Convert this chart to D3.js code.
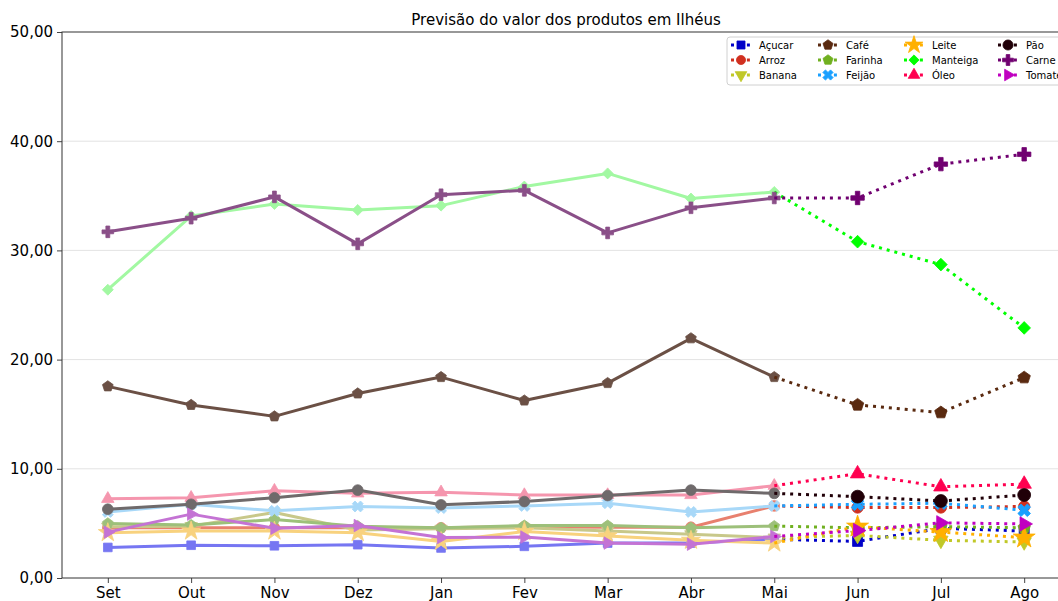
<!DOCTYPE html>
<html><head><meta charset="utf-8">
<script src="https://cdn.jsdelivr.net/npm/d3@7"></script>
<style>
html,body{margin:0;padding:0;background:#fff;}
svg{display:block;font-family:"DejaVu Sans",sans-serif;}
</style></head>
<body>
<svg id="chart" width="1058" height="601"></svg>
<script>
// ---------- DATA ----------
const months = ["Set","Out","Nov","Dez","Jan","Fev","Mar","Abr","Mai","Jun","Jul","Ago"];
const histMonths = ["Set","Out","Nov","Dez","Jan","Fev","Mar","Abr","Mai"];
const foreMonths = ["Mai","Jun","Jul","Ago"];
const products = ["Açucar","Arroz","Banana","Café","Farinha","Feijão","Leite","Manteiga","Óleo","Pão","Carne","Tomate"];
const yTicks = [0,10,20,30,40,50];

const histAcucar   = [2.8, 3.0, 2.95, 3.05, 2.75, 2.9, 3.2, 3.2, 3.55];
const histArroz    = [4.6, 4.6, 4.6, 4.6, 4.6, 4.7, 4.65, 4.65, 6.6];
const histBanana   = [4.7, 4.75, 6.0, 4.4, 4.5, 4.6, 4.3, 4.0, 3.7];
const histCafe     = [17.55, 15.85, 14.8, 16.9, 18.4, 16.25, 17.85, 21.95, 18.4];
const histFarinha  = [5.0, 4.85, 5.35, 4.75, 4.6, 4.8, 4.8, 4.6, 4.75];
const histFeijao   = [6.05, 6.75, 6.15, 6.55, 6.4, 6.6, 6.85, 6.05, 6.6];
const histLeite    = [4.15, 4.3, 4.3, 4.15, 3.35, 4.25, 3.85, 3.45, 3.2];
const histManteiga = [26.4, 33.15, 34.25, 33.7, 34.1, 35.85, 37.05, 34.75, 35.35];
const histOleo     = [7.25, 7.35, 8.0, 7.75, 7.85, 7.6, 7.6, 7.6, 8.45];
const histPao      = [6.3, 6.75, 7.35, 8.05, 6.7, 7.0, 7.55, 8.05, 7.75];
const histCarne    = [31.7, 32.95, 34.9, 30.6, 35.1, 35.5, 31.6, 33.9, 34.8];
const histTomate   = [4.2, 5.85, 4.55, 4.8, 3.7, 3.75, 3.2, 3.1, 3.8];

// forecast Jun, Jul, Ago
const foreAcucar   = [3.35, 4.55, 4.3];
const foreArroz    = [6.45, 6.45, 6.55];
const foreBanana   = [3.9, 3.45, 3.3];
const foreCafe     = [15.85, 15.15, 18.35];
const foreFarinha  = [4.6, 4.7, 4.6];
const foreFeijao   = [6.75, 6.85, 6.2];
const foreLeite    = [4.7, 4.2, 3.7];
const foreManteiga = [30.8, 28.7, 22.9];
const foreOleo     = [9.55, 8.35, 8.6];
const forePao      = [7.45, 7.05, 7.6];
const foreCarne    = [34.8, 37.9, 38.8];
const foreTomate   = [4.35, 5.05, 4.95];

const histAll = [histAcucar,histArroz,histBanana,histCafe,histFarinha,histFeijao,histLeite,histManteiga,histOleo,histPao,histCarne,histTomate];
const foreAll = [foreAcucar,foreArroz,foreBanana,foreCafe,foreFarinha,foreFeijao,foreLeite,foreManteiga,foreOleo,forePao,foreCarne,foreTomate];

const foreColors = ["#0000c8","#d03020","#c0c828","#5a2a10","#70b020","#1aa0ff","#ffb000","#00ff00","#ff0050","#200008","#700070","#c000c0"];
const histColors = ["#7676f2","#e8806e","#c8c88a","#6b5045","#9dc07a","#a8d8f8","#f8d27e","#a2f8a2","#f596ae","#6f6a6b","#8a4f88","#c473d4"];
const markers = ["square","circle","tridown","pentagon","pentagon","x","star","diamond","triup","circle","plus","triright"];

// ---------- LAYOUT ----------
const svg = d3.select("#chart");
const mLeft = 62, mRight = 1070, mTop = 32, mBottom = 578;
const x = d3.scalePoint().domain(months).range([mLeft, mRight]).padding(0.55);
const y = d3.scaleLinear().domain([0, 50]).range([mBottom, mTop]);

// symbols
const pentagon = {draw(ctx, size){
  const r = Math.sqrt(size / 2.378);
  for (let i = 0; i < 5; i++) {
    const a = -Math.PI/2 + i*2*Math.PI/5;
    const px = r*Math.cos(a), py = r*Math.sin(a);
    if (i===0) ctx.moveTo(px,py); else ctx.lineTo(px,py);
  }
  ctx.closePath();
}};
function symPath(kind, size){
  let t;
  switch(kind){
    case "square": t=d3.symbolSquare; break;
    case "circle": t=d3.symbolCircle; break;
    case "pentagon": t=pentagon; break;
    case "x": case "plus": t=d3.symbolCross; break;
    case "star": t=d3.symbolStar; size*=1.5; break;
    case "diamond": t=d3.symbolSquare; size*=0.8; break;
    default: t=d3.symbolTriangle; size*=0.9;
  }
  return d3.symbol().type(t).size(size)();
}
function symRot(kind){
  return {x:45, diamond:45, tridown:180, triright:90}[kind] || 0;
}
function drawMarker(g, kind, cx, cy, size, color){
  g.append("path").attr("d", symPath(kind,size))
   .attr("transform", `translate(${cx},${cy}) rotate(${symRot(kind)})`)
   .attr("fill", color).attr("stroke", color).attr("stroke-width", 0.8);
}

// grid
svg.append("g").selectAll("line").data(yTicks.slice(1,-1)).join("line")
  .attr("x1", mLeft).attr("x2", mRight).attr("y1", d=>y(d)).attr("y2", d=>y(d))
  .attr("stroke", "#e3e3e3").attr("stroke-width", 1);

const line = d3.line().x(d=>x(d.m)).y(d=>y(d.v));
const plot = svg.append("g");

products.forEach((p, i) => {
  const hd = histMonths.map((m,j)=>({m, v: histAll[i][j]}));
  const fd = foreMonths.map((m,j)=>({m, v: j===0 ? histAll[i][8] : foreAll[i][j-1]}));
  const g = plot.append("g");
  g.append("path").attr("d", line(hd)).attr("fill","none")
    .attr("stroke", histColors[i]).attr("stroke-width", 3).attr("stroke-linejoin","round");
  hd.forEach(d => drawMarker(g, markers[i], x(d.m), y(d.v), markers[i]==="circle"?90:75, histColors[i]));
  g.append("path").attr("d", line(fd)).attr("fill","none")
    .attr("stroke", foreColors[i]).attr("stroke-width", 3).attr("stroke-dasharray","3,4.95");
  fd.slice(1).forEach(d => drawMarker(g, markers[i], x(d.m), y(d.v), i===9?130:100, foreColors[i]));
});

// axes
const yAxis = d3.axisLeft(y).tickValues(yTicks).tickFormat(d => d3.format(".2f")(d).replace(".", ",")).tickSize(5).tickPadding(4);
const gy = svg.append("g").attr("transform", `translate(${mLeft},0)`).call(yAxis);
const xAxis = d3.axisBottom(x).tickSize(5).tickPadding(4);
const gx = svg.append("g").attr("transform", `translate(0,${mBottom})`).call(xAxis);
[gy, gx].forEach(g => {
  g.select(".domain").remove();
  g.selectAll("line").attr("stroke", "#444");
  g.selectAll("text").attr("font-size", 15).attr("fill", "#000").attr("font-family","DejaVu Sans");
});
// spines
svg.append("rect").attr("x", mLeft).attr("y", mTop).attr("width", mRight-mLeft).attr("height", mBottom-mTop)
  .attr("fill","none").attr("stroke","#333").attr("stroke-width",1);

// title
svg.append("text").attr("x", (mLeft+mRight)/2).attr("y", 25).attr("text-anchor","middle")
  .attr("font-size", 15).text("Previsão do valor dos produtos em Ilhéus");

// legend
const lg = svg.append("g");
lg.append("rect").attr("x", 727).attr("y", 37).attr("width", 360).attr("height", 48).attr("rx", 3)
  .attr("fill","#fff").attr("fill-opacity",0.85).attr("stroke","#d0d0d0");
const colX = [731, 818, 904, 998];
products.forEach((p,i) => {
  const c = Math.floor(i/3), r = i%3;
  const lx = colX[c], ly = 45 + r*15;
  lg.append("line").attr("x1", lx).attr("x2", lx+20).attr("y1", ly).attr("y2", ly)
    .attr("stroke", foreColors[i]).attr("stroke-width", 3).attr("stroke-dasharray","3,4.95");
  drawMarker(lg, markers[i], lx+10, ly, i===9?80:65, foreColors[i]);
  lg.append("text").attr("x", lx+28).attr("y", ly+3.5).attr("font-size", 10).text(p);
});
</script>
</body></html>
